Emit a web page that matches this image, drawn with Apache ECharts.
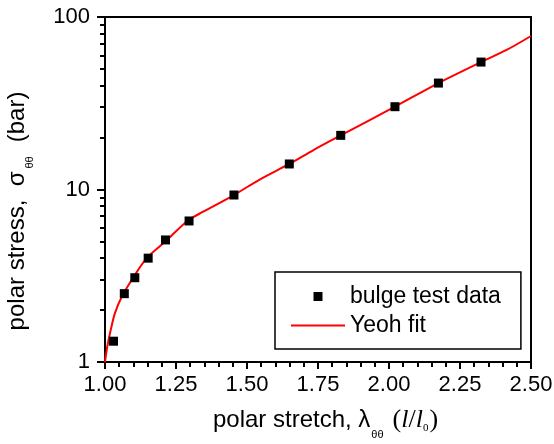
<!DOCTYPE html>
<html>
<head>
<meta charset="utf-8">
<script src="https://cdn.jsdelivr.net/npm/echarts@6/dist/echarts.min.js"></script>
<style>
  html, body { margin: 0; padding: 0; background: #fff; }
  #chart { width: 554px; height: 444px; }
</style>
</head>
<body>
<div id="chart"></div>
<script>
// bulge test measurements
const testStretch = [1.030, 1.068, 1.105, 1.152, 1.213, 1.296, 1.454, 1.649, 1.830, 2.021, 2.174, 2.324];
const testStress = [1.32, 2.49, 3.08, 4.00, 5.10, 6.57, 9.29, 14.06, 20.6, 30.2, 41.4, 54.8];

// Yeoh fit curve
const fitStretch = [1.000, 1.008, 1.020, 1.035, 1.059, 1.094, 1.147, 1.217, 1.290, 1.346, 1.454, 1.546, 1.649, 1.734, 1.830, 2.021, 2.174, 2.324, 2.414, 2.500];
const fitStress = [1.00, 1.23, 1.53, 1.92, 2.39, 2.99, 4.0, 5.07, 6.57, 7.44, 9.29, 11.46, 14.06, 16.94, 20.6, 30.2, 41.4, 54.8, 64.4, 77.6];

const seriesNames = ['bulge test data', 'Yeoh fit'];

const font = 'Liberation Sans, Arial, sans-serif';
const serif = 'Liberation Serif, Times New Roman, serif';

const chart = echarts.init(document.getElementById('chart'), null, { renderer: 'canvas' });

// plain frame line for the top and right edges
const frameAxis = {
  axisLine: { show: true, onZero: false, lineStyle: { color: '#000', width: 2 } },
  axisTick: { show: false },
  axisLabel: { show: false },
  splitLine: { show: false }
};

const option = {
  animation: false,
  grid: {
    left: 105, right: 23, top: 17, bottom: 82,
    outerBoundsMode: 'none'
  },
  legend: {
    data: [
      { name: seriesNames[0], icon: 'path://M0,0h1v1h-1z' },
      { name: seriesNames[1], icon: 'path://M0,0h54v2h-54z' }
    ],
    orient: 'vertical',
    left: 275, top: 272,
    padding: [13, 20, 12, 16],
    itemWidth: 54, itemHeight: 9, itemGap: 6,
    borderColor: '#000', borderWidth: 1.5,
    textStyle: { fontFamily: font, fontSize: 23, color: '#000' }
  },
  xAxis: [{
    type: 'value',
    min: 1, max: 2.5, interval: 0.25,
    position: 'bottom',
    name: '{a|polar stretch, λ}{s|θθ}{p|(}{i|l}{p|/}{i|l}{z|0}{p|)}',
    nameLocation: 'middle', nameGap: 39,
    nameTextStyle: {
      padding: [0, 0, 0, 15],
      rich: {
        a: { fontFamily: font, fontSize: 24, color: '#000' },
        s: { fontFamily: font, fontSize: 11, color: '#000', padding: [28, 9, 0, 1] },
        p: { fontFamily: serif, fontSize: 26, color: '#000' },
        i: { fontFamily: serif, fontSize: 26, fontStyle: 'italic', color: '#000' },
        z: { fontFamily: serif, fontSize: 11, color: '#000', padding: [16, 1, 0, 0] }
      }
    },
    axisLine: { show: true, onZero: false, lineStyle: { color: '#000', width: 2 } },
    axisTick: { show: true, inside: false, length: 7, lineStyle: { color: '#000', width: 2 } },
    minorTick: { show: true, splitNumber: 5, length: 5, lineStyle: { color: '#000', width: 2 } },
    axisLabel: {
      margin: 12, fontFamily: font, fontSize: 22, color: '#000',
      formatter: v => v.toFixed(2)
    },
    splitLine: { show: false }
  }, Object.assign({ type: 'value', min: 1, max: 2.5, position: 'top' }, frameAxis)],
  yAxis: [{
    type: 'log',
    min: 1, max: 100, logBase: 10,
    position: 'left',
    name: '{a|polar stress,  σ}{s|θθ}{a|(bar)}',
    nameLocation: 'middle', nameGap: 70,
    nameTextStyle: {
      padding: [0, 43, 0, 0],
      rich: {
        a: { fontFamily: font, fontSize: 24, color: '#000' },
        s: { fontFamily: font, fontSize: 11, color: '#000', padding: [24, 14, 0, 3] }
      }
    },
    axisLine: { show: true, onZero: false, lineStyle: { color: '#000', width: 2 } },
    axisTick: { show: true, inside: false, length: 8, lineStyle: { color: '#000', width: 2 } },
    minorTick: { show: true, splitNumber: 9, length: 5, lineStyle: { color: '#000', width: 2 } },
    axisLabel: { margin: 15, fontFamily: font, fontSize: 22, color: '#000' },
    splitLine: { show: false }
  }, Object.assign({ type: 'log', min: 1, max: 100, position: 'right' }, frameAxis)],
  series: [
    {
      name: seriesNames[1],
      type: 'line',
      data: fitStretch.map((x, i) => [x, fitStress[i]]),
      smooth: 0.3,
      showSymbol: false,
      symbol: 'none',
      lineStyle: { color: '#ff0000', width: 2 },
      itemStyle: { color: '#ff0000' },
      z: 2
    },
    {
      name: seriesNames[0],
      type: 'scatter',
      data: testStretch.map((x, i) => [x, testStress[i]]),
      symbol: 'rect',
      symbolSize: 9,
      itemStyle: { color: '#000', opacity: 1 },
      z: 3
    }
  ]
};

chart.setOption(option);
</script>
</body>
</html>
